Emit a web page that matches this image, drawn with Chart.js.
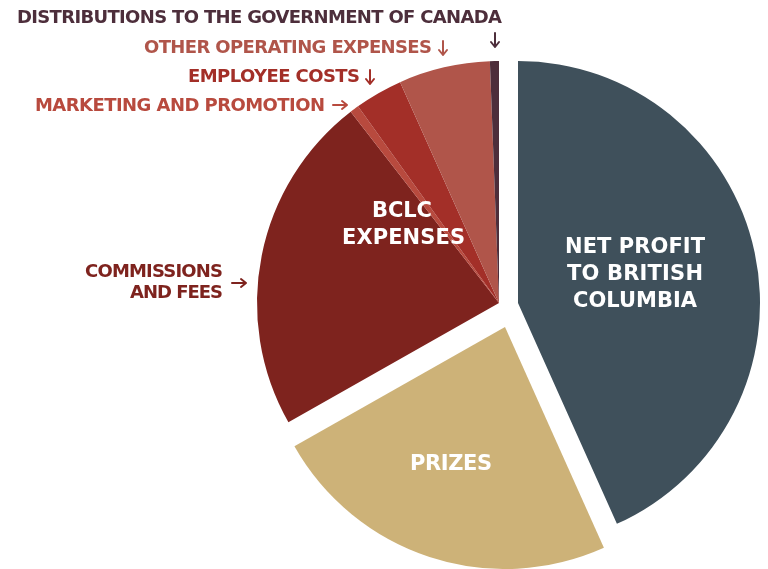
<!DOCTYPE html>
<html>
<head>
<meta charset="utf-8">
<script src="https://cdn.jsdelivr.net/npm/chart.js@4"></script>
<style>
    html, body { margin: 0; padding: 0; background: #fff; }
    #wrap { width: 768px; height: 569px; position: relative; }
</style>
</head>
<body>
<div id="wrap"><canvas id="revenueChart"></canvas></div>
<script>
// ── DATA ──────────────────────────────────────────────────────
const categories = [
    'Net profit to British Columbia',
    'Prizes',
    'Commissions and fees',
    'Marketing and promotion',
    'Employee costs',
    'Other operating expenses',
    'Distributions to the Government of Canada'
];
const shares = [43.3, 23.5, 22.7, 0.6, 3.2, 6.1, 0.6];   // % of revenue
const sliceColors = ['#3f505b', '#cdb278', '#7e231e', '#b84a3e', '#a32f28', '#b0554a', '#4d2e3b'];

// ── LABELS ────────────────────────────────────────────────────
const FONT = '"DejaVu Sans", sans-serif';

// outside labels: text, colour, left x, right x, mid y
const outsideLabels = [
    ['DISTRIBUTIONS TO THE GOVERNMENT OF CANADA', '#4d2e3b', 17, 502, 18],
    ['OTHER OPERATING EXPENSES', '#b0554a', 144, 432, 48],
    ['EMPLOYEE COSTS', '#a32f28', 188, 360, 77],
    ['MARKETING AND PROMOTION', '#b84a3e', 35, 325, 106],
    ['COMMISSIONS', '#7e231e', 85, 223, 272],
    ['AND FEES', '#7e231e', 130, 223, 293]
];
// arrows: x, y, direction, colour
const arrows = [
    [495, 33, 'down', '#4d2e3b'],
    [443, 41, 'down', '#b0554a'],
    [370, 70, 'down', '#a32f28'],
    [333, 105, 'right', '#b84a3e'],
    [232, 283, 'right', '#7e231e']
];
// labels on the slices
const insideLabels = [
    ['NET PROFIT', 565, 705, 248],
    ['TO BRITISH', 567, 703, 275],
    ['COLUMBIA', 573, 697, 302],
    ['PRIZES', 410, 492, 465],
    ['BCLC', 372, 432, 212],
    ['EXPENSES', 342, 465, 239]
];

function fitText(ctx, text, x0, x1, y) {
    ctx.letterSpacing = '0px';
    const w = ctx.measureText(text).width;
    const gap = text.length > 1 ? (x1 - x0 - w) / (text.length - 1) : 0;
    ctx.letterSpacing = gap + 'px';
    ctx.textAlign = 'left';
    ctx.textBaseline = 'middle';
    ctx.fillText(text, x0, y);
}

function drawArrow(ctx, x, y, dir, color) {
    ctx.save();
    ctx.strokeStyle = color;
    ctx.lineWidth = 2;
    ctx.lineCap = 'round';
    ctx.lineJoin = 'round';
    ctx.beginPath();
    if (dir === 'down') {
        ctx.moveTo(x, y); ctx.lineTo(x, y + 14);
        ctx.moveTo(x - 4, y + 9); ctx.lineTo(x, y + 14); ctx.lineTo(x + 4, y + 9);
    } else {
        ctx.moveTo(x, y); ctx.lineTo(x + 14, y);
        ctx.moveTo(x + 9, y - 4); ctx.lineTo(x + 14, y); ctx.lineTo(x + 9, y + 4);
    }
    ctx.stroke();
    ctx.restore();
}

// pull the net profit and prizes slices out of the pie
const explodePlugin = {
    id: 'explode',
    afterDatasetsUpdate(chart, args, opts) {
        const meta = chart.getDatasetMeta(0);
        meta.data.forEach((arc, i) => {
            const s = opts.shifts[i];
            if (s) { arc.x += s[0]; arc.y += s[1]; }
        });
    }
};

const labelPlugin = {
    id: 'sliceLabels',
    afterDraw(chart) {
        const ctx = chart.ctx;
        ctx.save();
        ctx.font = 'bold 18px ' + FONT;
        outsideLabels.forEach(l => {
            ctx.fillStyle = l[1];
            fitText(ctx, l[0], l[2], l[3], l[4]);
        });
        ctx.font = 'bold 21px ' + FONT;
        ctx.fillStyle = '#ffffff';
        insideLabels.forEach(l => fitText(ctx, l[0], l[1], l[2], l[3]));
        ctx.restore();
        arrows.forEach(a => drawArrow(ctx, a[0], a[1], a[2], a[3]));
    }
};

// ── CHART ─────────────────────────────────────────────────────
new Chart(document.getElementById('revenueChart'), {
    type: 'pie',
    data: {
        labels: categories,
        datasets: [{
            data: shares,
            backgroundColor: sliceColors,
            borderWidth: 0,
            radius: 242
        }]
    },
    options: {
        responsive: true,
        maintainAspectRatio: false,
        animation: false,
        layout: { padding: { left: 230, top: 37, right: 0, bottom: 0 } },
        plugins: {
            legend: { display: false },
            tooltip: { enabled: false },
            explode: { shifts: [[19, 0], [6, 24]] }
        }
    },
    plugins: [explodePlugin, labelPlugin]
});
</script>
</body>
</html>
